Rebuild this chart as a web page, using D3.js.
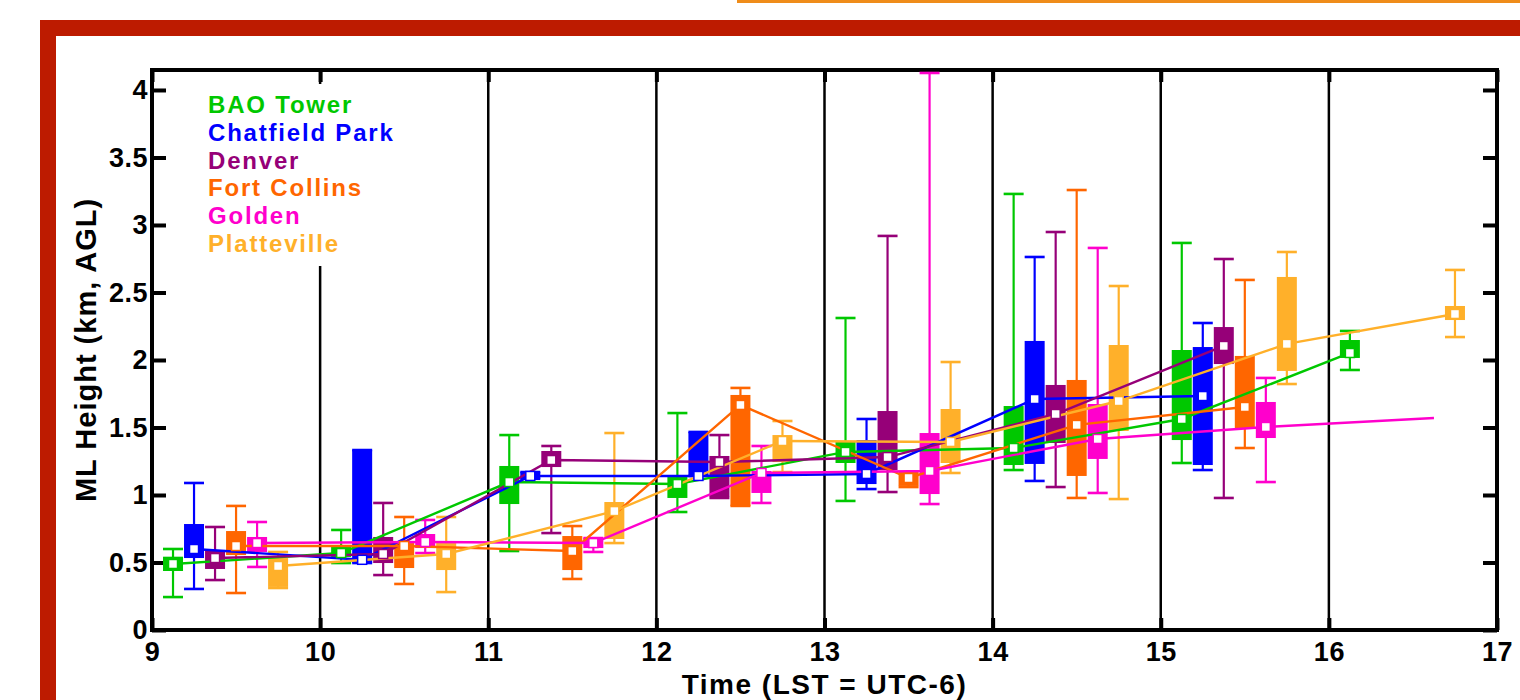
<!DOCTYPE html>
<html>
<head>
<meta charset="utf-8">
<script src="https://cdn.jsdelivr.net/npm/d3@7"></script>
<style>
  html, body { margin: 0; padding: 0; background: #fff; }
  svg { display: block; }
  text { font-family: "Liberation Sans", Arial, Helvetica, sans-serif; font-weight: bold; }
</style>
</head>
<body>
<svg id="chart" width="1520" height="700"></svg>
<script>
// Mixed-layer height statistics per site, binned by local hour
const hours = [9, 10, 11, 12, 13, 14, 15, 16];
const xTicks = [9, 10, 11, 12, 13, 14, 15, 16, 17];
const yTicks = [0, 0.5, 1, 1.5, 2, 2.5, 3, 3.5, 4];

const stations = ["BAO Tower", "Chatfield Park", "Denver", "Fort Collins", "Golden", "Platteville"];
const colors = ["#00c800", "#0000ff", "#960078", "#ff6600", "#ff00cc", "#ffb02a"];

// whisker low, lower quartile, median, upper quartile, whisker high (km AGL)
const baoLo   = [0.244, 0.496, 0.585, 0.874, 0.956, 1.185, 1.237, 1.926];
const baoQ1   = [0.437, 0.541, 0.933, 0.978, 1.237, 1.222, 1.407, 2.015];
const baoMed  = [0.489, 0.570, 1.096, 1.081, 1.319, 1.348, 1.563, 2.052];
const baoQ3   = [0.543, 0.615, 1.215, 1.133, 1.393, 1.659, 2.074, 2.148];
const baoHi   = [0.600, 0.741, 1.444, 1.607, 2.311, 3.230, 2.867, 2.215];

const chatLo  = [0.304, 0.496, 1.120, 1.141, 1.044, 1.104, 1.185, null];
const chatQ1  = [0.533, 0.496, 1.120, 1.141, 1.081, 1.230, 1.222, null];
const chatMed = [0.600, 0.520, 1.141, 1.141, 1.156, 1.711, 1.733, null];
const chatQ3  = [0.785, 1.333, 1.170, 1.467, 1.407, 2.141, 2.096, null];
const chatHi  = [1.089, 1.333, 1.170, 1.467, 1.563, 2.763, 2.274, null];

const denLo   = [0.370, 0.407, 0.718, 0.978, 1.022, 1.059, 0.978, null];
const denQ1   = [0.452, 0.496, 1.207, 0.985, 1.185, 1.385, 1.970, null];
const denMed  = [0.533, 0.563, 1.259, 1.244, 1.281, 1.600, 2.104, null];
const denQ3   = [0.593, 0.689, 1.326, 1.289, 1.622, 1.815, 2.244, null];
const denHi   = [0.763, 0.941, 1.363, 1.444, 2.919, 2.948, 2.748, null];

const fcLo    = [0.274, 0.341, 0.378, 0.919, 1.059, 0.978, 1.348, null];
const fcQ1    = [0.555, 0.459, 0.444, 0.919, 1.067, 1.141, 1.489, null];
const fcMed   = [0.622, 0.622, 0.585, 1.667, 1.126, 1.519, 1.652, null];
const fcQ3    = [0.733, 0.644, 0.696, 1.741, 1.156, 1.852, 2.030, null];
const fcHi    = [0.919, 0.837, 0.770, 1.793, 1.163, 3.259, 2.593, null];

const golLo   = [0.467, 0.570, 0.578, 0.941, 0.933, 1.015, 1.096, null];
const golQ1   = [0.578, 0.607, 0.607, 1.015, 1.007, 1.267, 1.422, null];
const golMed  = [0.644, 0.652, 0.644, 1.163, 1.178, 1.415, 1.504, 1.570];
const golQ3   = [0.689, 0.711, 0.681, 1.178, 1.459, 1.674, 1.689, null];
const golHi   = [0.800, 0.815, 0.681, 1.363, 4.126, 2.830, 1.867, null];

const platLo  = [0.311, 0.281, 0.644, 1.170, 1.163, 0.970, 1.822, 2.170];
const platQ1  = [0.319, 0.444, 0.674, 1.244, 1.237, 1.474, 1.919, 2.296];
const platMed = [0.474, 0.563, 0.881, 1.400, 1.393, 1.696, 2.119, 2.341];
const platQ3  = [0.533, 0.644, 0.948, 1.444, 1.637, 2.111, 2.615, 2.400];
const platHi  = [0.578, 0.837, 1.459, 1.548, 1.985, 2.548, 2.800, 2.667];

const stats = [
  [baoLo, baoQ1, baoMed, baoQ3, baoHi],
  [chatLo, chatQ1, chatMed, chatQ3, chatHi],
  [denLo, denQ1, denMed, denQ3, denHi],
  [fcLo, fcQ1, fcMed, fcQ3, fcHi],
  [golLo, golQ1, golMed, golQ3, golHi],
  [platLo, platQ1, platMed, platQ3, platHi]
];

const svg = d3.select("#chart");

// page frame
svg.append("rect").attr("x", 0).attr("y", 0).attr("width", 1520).attr("height", 700).attr("fill", "#fff");
svg.append("rect").attr("x", 737).attr("y", 0).attr("width", 783).attr("height", 3).attr("fill", "#ef8c1a");
svg.append("rect").attr("x", 40).attr("y", 20).attr("width", 1480).attr("height", 16).attr("fill", "#bd1b00");
svg.append("rect").attr("x", 40).attr("y", 20).attr("width", 16).attr("height", 680).attr("fill", "#bd1b00");

const plotL = 152, plotR = 1497, plotT = 70, plotB = 630;
const x = d3.scaleLinear().domain([9, 17]).range([plotL, plotR]);
const y = d3.scaleLinear().domain([0, 4.148]).range([plotB, plotT]);

// hourly grid lines
svg.append("g").selectAll("line").data(xTicks.slice(1, -1)).join("line")
  .attr("x1", d => x(d)).attr("x2", d => x(d))
  .attr("y1", plotT).attr("y2", plotB)
  .attr("stroke", "#000").attr("stroke-width", 2.5);

// legend backing
svg.append("rect").attr("x", 196).attr("y", 84).attr("width", 205).attr("height", 182).attr("fill", "#fff");

// axes with inward ticks
const fmt = d3.format("~g");
const gL = svg.append("g").attr("transform", `translate(${plotL},0)`)
  .call(d3.axisLeft(y).tickValues(yTicks).tickSize(-14).tickPadding(4).tickFormat(fmt));
const gR = svg.append("g").attr("transform", `translate(${plotR},0)`)
  .call(d3.axisRight(y).tickValues(yTicks).tickSize(-14).tickFormat(""));
const gB = svg.append("g").attr("transform", `translate(0,${plotB})`)
  .call(d3.axisBottom(x).tickValues(xTicks).tickSize(-12).tickPadding(12).tickFormat(fmt));
const gT = svg.append("g").attr("transform", `translate(0,${plotT})`)
  .call(d3.axisTop(x).tickValues(xTicks).tickSize(-12).tickFormat(""));

[gL, gR, gB, gT].forEach(g => {
  g.select(".domain").remove();
  g.selectAll(".tick line").attr("stroke", "#000").attr("stroke-width", 4);
  g.selectAll(".tick text").attr("fill", "#000").style("font-size", "27px").style("letter-spacing", "0.5px");
});

svg.append("rect").attr("x", plotL).attr("y", plotT).attr("width", plotR - plotL).attr("height", plotB - plotT)
  .attr("fill", "none").attr("stroke", "#000").attr("stroke-width", 4);

// box-and-whisker marks, each site offset by 1/8 h within the hour
const boxW = 20;
const marks = [];
stations.forEach((s, k) => {
  const [lo, q1, med, q3, hi] = stats[k];
  hours.forEach((h, i) => {
    if (med[i] == null) return;
    marks.push({ k, t: h + (k + 1) / 8, lo: lo[i], q1: q1[i], med: med[i], q3: q3[i], hi: hi[i] });
  });
});
const boxed = marks.filter(d => d.q1 != null);

const gBox = svg.append("g");
gBox.selectAll("line.whisker").data(boxed).join("line").attr("class", "whisker")
  .attr("x1", d => x(d.t)).attr("x2", d => x(d.t))
  .attr("y1", d => y(d.lo)).attr("y2", d => y(d.hi))
  .attr("stroke", d => colors[d.k]).attr("stroke-width", 2.2);
gBox.selectAll("line.capHi").data(boxed).join("line").attr("class", "capHi")
  .attr("x1", d => x(d.t) - boxW / 2).attr("x2", d => x(d.t) + boxW / 2)
  .attr("y1", d => y(d.hi)).attr("y2", d => y(d.hi))
  .attr("stroke", d => colors[d.k]).attr("stroke-width", 2.6);
gBox.selectAll("line.capLo").data(boxed).join("line").attr("class", "capLo")
  .attr("x1", d => x(d.t) - boxW / 2).attr("x2", d => x(d.t) + boxW / 2)
  .attr("y1", d => y(d.lo)).attr("y2", d => y(d.lo))
  .attr("stroke", d => colors[d.k]).attr("stroke-width", 2.6);
gBox.selectAll("rect").data(boxed).join("rect")
  .attr("x", d => x(d.t) - boxW / 2).attr("width", boxW)
  .attr("y", d => y(d.q3)).attr("height", d => Math.max(2, y(d.q1) - y(d.q3)))
  .attr("fill", d => colors[d.k]);

// median traces
const line = d3.line().x(d => x(d.t)).y(d => y(d.med));
svg.append("g").selectAll("path").data(stations.map((s, k) => marks.filter(d => d.k === k))).join("path")
  .attr("d", line).attr("fill", "none")
  .attr("stroke", (d, k) => colors[k]).attr("stroke-width", 2.4);

// median markers
svg.append("g").selectAll("rect").data(boxed).join("rect")
  .attr("x", d => x(d.t) - 4.5).attr("y", d => y(d.med) - 4.5)
  .attr("width", 9).attr("height", 9)
  .attr("fill", "#fff").attr("stroke", d => colors[d.k]).attr("stroke-width", 1.5);

// legend
svg.append("g").selectAll("text").data(stations).join("text")
  .attr("x", 208).attr("y", (d, i) => 113 + i * 27.8)
  .attr("fill", (d, i) => colors[i])
  .style("font-size", "24px").style("letter-spacing", "1.8px")
  .text(d => d);

// axis titles
svg.append("text").attr("x", (plotL + plotR) / 2).attr("y", 694)
  .attr("text-anchor", "middle").style("font-size", "28px").style("letter-spacing", "1.5px")
  .text("Time (LST = UTC-6)");
svg.append("text").attr("transform", `translate(96,${(plotT + plotB) / 2}) rotate(-90)`)
  .attr("text-anchor", "middle").style("font-size", "29px").style("letter-spacing", "1px")
  .text("ML Height (km, AGL)");
</script>
</body>
</html>
